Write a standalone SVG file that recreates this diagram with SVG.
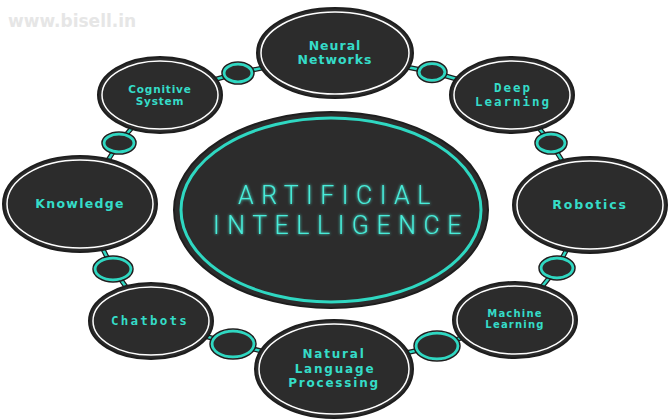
<svg xmlns="http://www.w3.org/2000/svg" width="670" height="420" viewBox="0 0 670 420">
<defs>
<style>
.node{fill:#2c2c2c;stroke:#1e1e1e;stroke-width:2}
.ring{fill:none;stroke:#ffffff;stroke-width:1.5}
.dot{fill:#2c2c2c;stroke:#2fd8c2;stroke-width:3}
.dotb{fill:none;stroke:#1e1e1e;stroke-width:1.5}
.lk{fill:none;stroke:#1e1e1e;stroke-width:5}
.lt{fill:none;stroke:#2fd8c2;stroke-width:2.5}
.t{fill:#35dcc8;font-family:"DejaVu Sans",Verdana,sans-serif;font-weight:bold;text-anchor:middle}
.m{fill:#35dcc8;font-family:"DejaVu Sans Mono","Liberation Mono",monospace;font-weight:bold;text-anchor:middle}
.big{fill:#48ecd9;font-family:Roboto,"Liberation Sans",sans-serif;font-weight:300;font-size:25px;letter-spacing:7.5px;text-anchor:middle}
</style>
<filter id="glow" x="-10%" y="-30%" width="120%" height="160%">
<feGaussianBlur stdDeviation="1.5" result="b"/>
<feMerge><feMergeNode in="b"/><feMergeNode in="SourceGraphic"/></feMerge>
</filter>
</defs>
<rect width="670" height="420" fill="#ffffff"/>
<text x="8" y="27" font-family="DejaVu Sans,Verdana,sans-serif" font-weight="bold" font-size="17" fill="#e6e6e6">www.bisell.in</text>

<g id="connectors">
<polyline class="lk" points="335,53 432,72 512,95 551,143 590,205 557,268 515,320 437,346 334,369 233,344 151,321 113,269 80,204 119,143 160,95 238,73 335,53"/>
<polyline class="lt" points="335,53 432,72 512,95 551,143 590,205 557,268 515,320 437,346 334,369 233,344 151,321 113,269 80,204 119,143 160,95 238,73 335,53"/>
<g id="links">
<ellipse class="dot" cx="432" cy="72" rx="13" ry="8.5"/><ellipse class="dotb" cx="432" cy="72" rx="15" ry="10.5"/>
<ellipse class="dot" cx="551" cy="143" rx="14" ry="9"/><ellipse class="dotb" cx="551" cy="143" rx="16" ry="11"/>
<ellipse class="dot" cx="557" cy="268" rx="16" ry="10"/><ellipse class="dotb" cx="557" cy="268" rx="18" ry="12"/>
<ellipse class="dot" cx="437" cy="346" rx="21" ry="13"/><ellipse class="dotb" cx="437" cy="346" rx="23" ry="15"/>
<ellipse class="dot" cx="233" cy="344" rx="21" ry="13"/><ellipse class="dotb" cx="233" cy="344" rx="23" ry="15"/>
<ellipse class="dot" cx="113" cy="269" rx="18" ry="11"/><ellipse class="dotb" cx="113" cy="269" rx="20" ry="13"/>
<ellipse class="dot" cx="119" cy="143" rx="15" ry="9"/><ellipse class="dotb" cx="119" cy="143" rx="17" ry="11"/>
<ellipse class="dot" cx="238" cy="73" rx="14" ry="9"/><ellipse class="dotb" cx="238" cy="73" rx="16" ry="11"/>
</g>
</g>

<g id="center">
<ellipse cx="331" cy="210" rx="157" ry="98" fill="#2c2c2c" stroke="#1e1e1e" stroke-width="2"/>
<ellipse cx="331" cy="210" rx="150" ry="92" fill="none" stroke="#2fd8c2" stroke-width="3"/>
<g filter="url(#glow)">
<text class="big" x="338" y="204">ARTIFICIAL</text>
<text class="big" x="341" y="234">INTELLIGENCE</text>
</g>
</g>

<g id="neural">
<ellipse class="node" cx="335" cy="53" rx="78" ry="45"/>
<ellipse class="ring" cx="335" cy="53" rx="74" ry="41"/>
<text class="t" x="335" y="50" font-size="12.5" letter-spacing="1">Neural</text>
<text class="t" x="335" y="64" font-size="12.5" letter-spacing="1">Networks</text>
</g>

<g id="deep">
<ellipse class="node" cx="512" cy="95" rx="62" ry="38"/>
<ellipse class="ring" cx="512" cy="95" rx="58" ry="34"/>
<text class="m" x="513" y="92" font-size="12.5" letter-spacing="2">Deep</text>
<text class="m" x="513" y="106" font-size="12.5" letter-spacing="2">Learning</text>
</g>

<g id="robotics">
<ellipse class="node" cx="590" cy="205" rx="77" ry="48"/>
<ellipse class="ring" cx="590" cy="205" rx="73" ry="44"/>
<text class="t" x="590" y="209" font-size="12.5" letter-spacing="1.8">Robotics</text>
</g>

<g id="machine">
<ellipse class="node" cx="515" cy="320" rx="62" ry="38"/>
<ellipse class="ring" cx="515" cy="320" rx="58" ry="34"/>
<text class="t" x="515" y="317" font-size="10" letter-spacing="1.2">Machine</text>
<text class="t" x="515" y="328" font-size="10" letter-spacing="1.2">Learning</text>
</g>

<g id="nlp">
<ellipse class="node" cx="334" cy="369" rx="79" ry="49"/>
<ellipse class="ring" cx="334" cy="369" rx="75" ry="45"/>
<text class="t" x="334" y="358" font-size="12" letter-spacing="1.8">Natural</text>
<text class="t" x="335" y="373" font-size="12" letter-spacing="1.8">Language</text>
<text class="t" x="334" y="387" font-size="12" letter-spacing="1.8">Processing</text>
</g>

<g id="chatbots">
<ellipse class="node" cx="151" cy="321" rx="62" ry="38"/>
<ellipse class="ring" cx="151" cy="321" rx="58" ry="34"/>
<text class="m" x="150" y="325" font-size="12.5" letter-spacing="2.2">Chatbots</text>
</g>

<g id="knowledge">
<ellipse class="node" cx="80" cy="204" rx="77" ry="48"/>
<ellipse class="ring" cx="80" cy="204" rx="73" ry="44"/>
<text class="t" x="80" y="208" font-size="12.5" letter-spacing="1.3">Knowledge</text>
</g>

<g id="cognitive">
<ellipse class="node" cx="160" cy="95" rx="62" ry="38"/>
<ellipse class="ring" cx="160" cy="95" rx="58" ry="34"/>
<text class="t" x="160" y="93" font-size="10.5" letter-spacing="0.8">Cognitive</text>
<text class="t" x="160" y="105" font-size="10.5" letter-spacing="0.8">System</text>
</g>
</svg>
